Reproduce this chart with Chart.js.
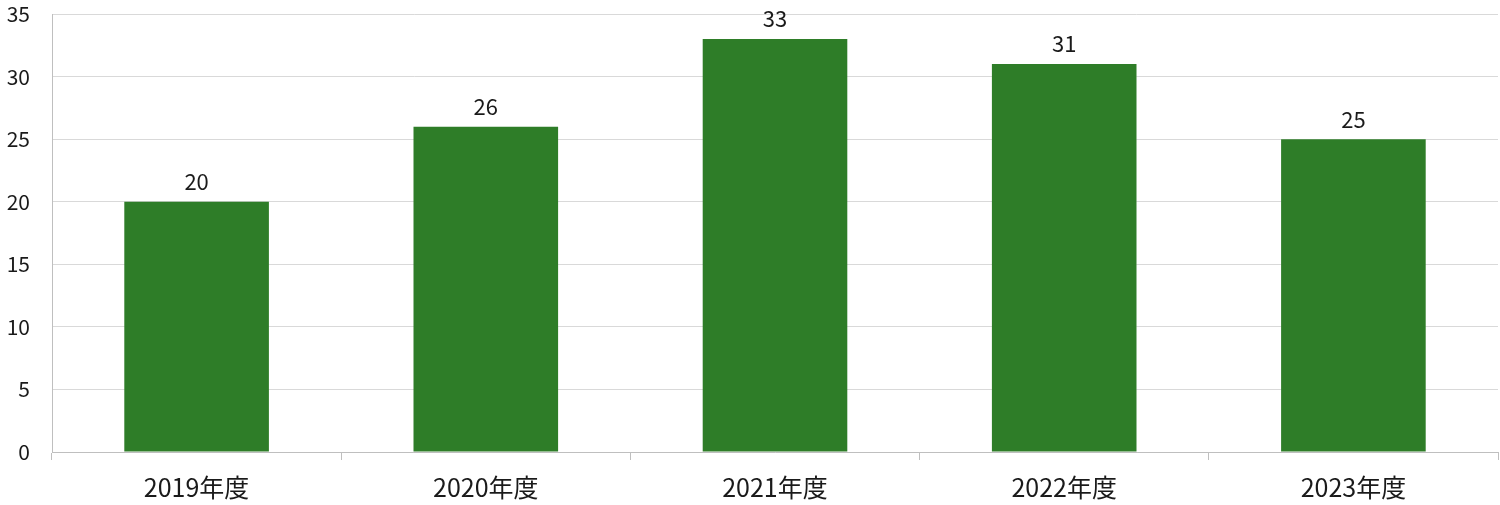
<!DOCTYPE html>
<html>
<head>
<meta charset="utf-8">
<script src="https://cdn.jsdelivr.net/npm/chart.js@4"></script>
<style>
  html, body { margin: 0; padding: 0; background: #fff; }
  #wrap { width: 1500px; height: 505px; }
</style>
</head>
<body>
<div id="wrap"><canvas id="chart1"></canvas></div>
<script>
var categories = ['2019年度', '2020年度', '2021年度', '2022年度', '2023年度'];
var values = [20, 26, 33, 31, 25];
var yMax = 35;
var yStep = 5;

var fontFamily = "'Century Gothic', 'Noto Sans CJK JP', 'DejaVu Sans', sans-serif";

// numbers above each bar
var valueLabels = {
    id: 'valueLabels',
    afterDatasetsDraw: function(chart) {
        var ctx = chart.ctx;
        var meta = chart.getDatasetMeta(0);
        ctx.save();
        ctx.font = '22px ' + fontFamily;
        ctx.fillStyle = '#1a1a1a';
        ctx.textAlign = 'center';
        ctx.textBaseline = 'bottom';
        meta.data.forEach(function(bar, i) {
            ctx.fillText(String(chart.data.datasets[0].data[i]), bar.x, bar.y - 9);
        });
        ctx.restore();
    }
};

new Chart(document.getElementById('chart1'), {
    type: 'bar',
    data: {
        labels: categories,
        datasets: [{
            data: values,
            backgroundColor: '#2e7d28',
            categoryPercentage: 1.0,
            barPercentage: 0.5
        }]
    },
    options: {
        responsive: true,
        maintainAspectRatio: false,
        animation: false,
        layout: { padding: { top: 14, right: 2, left: 0, bottom: 0 } },
        plugins: {
            legend: { display: false },
            tooltip: { enabled: false }
        },
        scales: {
            x: {
                offset: true,
                grid: {
                    offset: true,
                    drawOnChartArea: false,
                    color: '#bfbfbf',
                    tickLength: 8
                },
                border: { color: '#bfbfbf', width: 1 },
                ticks: {
                    color: '#1a1a1a',
                    font: { family: fontFamily, size: 25 },
                    padding: 12,
                    maxRotation: 0
                },
                afterFit: function(scale) { scale.height = 53; }
            },
            y: {
                min: 0,
                max: yMax,
                ticks: {
                    stepSize: yStep,
                    color: '#1a1a1a',
                    font: { family: fontFamily, size: 21 },
                    padding: 22
                },
                grid: {
                    color: '#d9d9d9',
                    tickLength: 0
                },
                border: { color: '#bfbfbf', width: 1 },
                afterFit: function(scale) {
                    scale.width = 52;
                    scale.paddingTop = 0;
                    scale.paddingBottom = 0;
                }
            }
        }
    },
    plugins: [valueLabels]
});
</script>
</body>
</html>
